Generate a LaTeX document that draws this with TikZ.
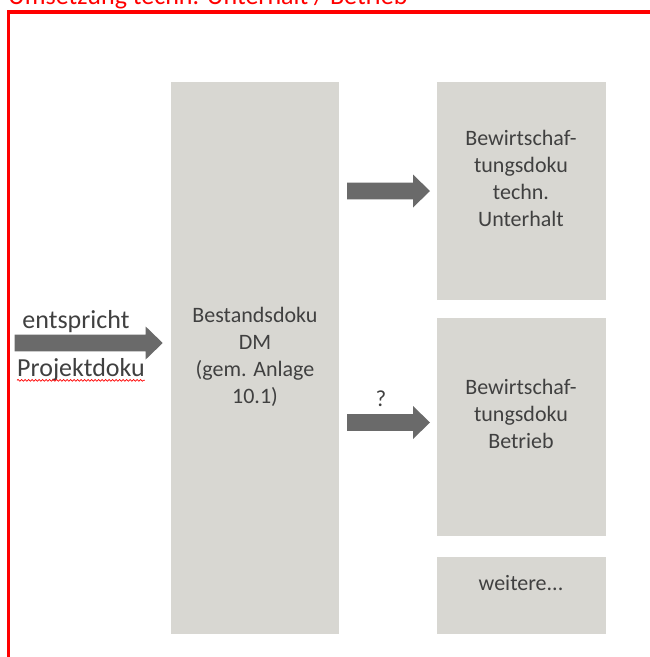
\documentclass[tikz,border=0pt]{standalone}
\usepackage{fontspec}
\setmainfont{Carlito}
\usetikzlibrary{decorations.pathmorphing}
\definecolor{boxgrey}{HTML}{D8D7D2}
\definecolor{arrowgrey}{HTML}{6A6A6A}
\definecolor{textgrey}{HTML}{404040}
\definecolor{framered}{HTML}{FF0000}

\begin{document}
\begin{tikzpicture}[x=1pt,y=-1pt,
  panel/.style={fill=boxgrey, draw=none, inner sep=0pt, anchor=north west},
  paneltext/.style={text=textgrey, align=center, inner sep=0pt,
                    font=\fontsize{22}{27}\selectfont},
  sidetext/.style={text=textgrey, inner sep=0pt, font=\fontsize{26}{30}\selectfont},
  % block arrow pointing right; #1 = total length, head 17 long
  pics/blockarrow/.style={code={
    \fill[arrowgrey] (0,-8.3) -- (#1-17,-8.3) -- (#1-17,-16.5) -- (#1,0)
      -- (#1-17,16.5) -- (#1-17,8.3) -- (0,8.3) -- cycle;}}
]
\useasboundingbox (0,0) rectangle (650,657);

% title and frame
\node[anchor=base west, inner sep=0pt, text=framered,
      font=\fontsize{26}{30}\selectfont] (title) at (8,4)
      {Umsetzung techn. Unterhalt / Betrieb};
\draw[framered, line width=3.5pt] (8.5,700) -- (8.5,12) -- (700,12);

% panels
\node[panel, minimum width=168pt, minimum height=552.5pt] (bestand) at (171,81.5) {};
\node[panel, minimum width=169.5pt, minimum height=218.5pt] (unterhalt) at (436.5,81.5) {};
\node[panel, minimum width=169.5pt, minimum height=218pt] (betrieb) at (436.5,317.5) {};
\node[panel, minimum width=169.5pt, minimum height=77.5pt] (weitere) at (436.5,556.5) {};

% panel texts
\node[paneltext] (bestandtxt) at (255,357) {Bestandsdoku\\DM\\(gem. Anlage\\10.1)};
\node[paneltext] (unterhalttxt) at (521,178) {Bewirtschaf-\\tungsdoku\\techn.\\Unterhalt};
\node[paneltext] (betriebtxt) at (521,413.5) {Bewirtschaf-\\tungsdoku\\Betrieb};
\node[paneltext] (weiteretxt) at (521,583) {weitere...};

% arrows
\pic at (14.7,343) {blockarrow=148};
\pic at (347,191) {blockarrow=83};
\pic at (347,422.5) {blockarrow=83};

% arrow labels
\node[sidetext] (entspricht) at (76,322) {entspricht};
\node[sidetext] (projekt) at (81,370) {Projektdoku};
\draw[framered, line width=0.7pt, decorate,
      decoration={snake, amplitude=0.9pt, segment length=3.5pt}]
  ([yshift=-3.5pt]projekt.base west) -- ([yshift=-3.5pt]projekt.base east);
\node[text=textgrey, inner sep=0pt, font=\fontsize{23}{26}\selectfont] (frage) at (381,399) {?};
\end{tikzpicture}
\end{document}
